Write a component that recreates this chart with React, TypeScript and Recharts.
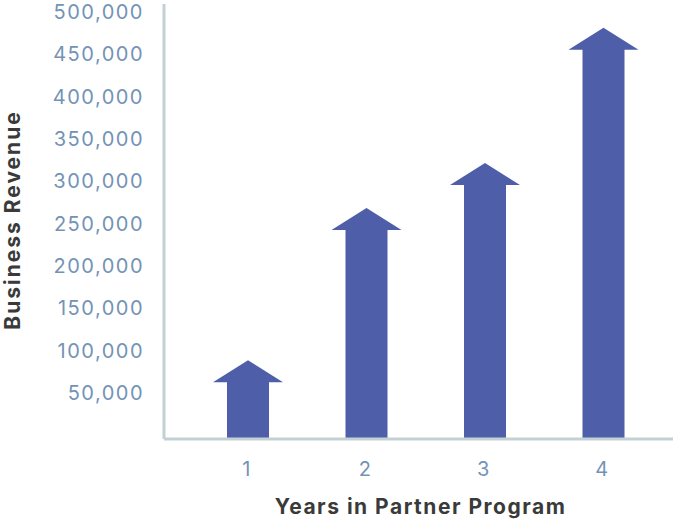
import React from 'react';
import { BarChart, Bar, XAxis, YAxis, Label } from 'recharts';

const years = ['1', '2', '3', '4'];
const revenue = [93000, 273000, 326000, 486000];
const yTicks = [50000, 100000, 150000, 200000, 250000, 300000, 350000, 400000, 450000, 500000];

const data = years.map((y, i) => ({ year: y, revenue: revenue[i] }));

const ARROW = '#4f5ea9';
const AXIS = '#c3d1d4';
const TICK = '#7393b5';
const TITLE = '#3a3a3a';
const FONT = 'Inter, "Noto Sans", sans-serif';

const ArrowShape = (props: any) => {
  const { x, y, width, height } = props;
  if (height == null || height <= 0) return null;
  const headH = 22;
  const headW = 70;
  const cx = x + width / 2;
  const d = [
    `M ${cx} ${y}`,
    `L ${cx + headW / 2} ${y + headH}`,
    `L ${x + width} ${y + headH}`,
    `L ${x + width} ${y + height}`,
    `L ${x} ${y + height}`,
    `L ${x} ${y + headH}`,
    `L ${cx - headW / 2} ${y + headH}`,
    'Z',
  ].join(' ');
  return <path d={d} fill={ARROW} />;
};

const YTick = (props: any) => {
  const { x, y, payload } = props;
  return (
    <text x={x} y={y - 4} dy="0.36em" textAnchor="end" fill={TICK} fontSize={20} letterSpacing={1.5} fontFamily={FONT}>
      {payload.value.toLocaleString('en-US')}
    </text>
  );
};

const XTick = (props: any) => {
  const { x, y, payload } = props;
  return (
    <text x={x - 2} y={y} dy="0.71em" textAnchor="middle" fill={TICK} fontSize={20} fontFamily={FONT}>
      {payload.value}
    </text>
  );
};

export default function App() {
  return (
    <div style={{ position: 'absolute', left: 0, top: 0, width: 700, height: 524, background: '#fff' }}>
      <BarChart
        width={700}
        height={524}
        data={data}
        margin={{ top: 4, right: 27, bottom: 0, left: 0 }}
      >
        <XAxis
          dataKey="year"
          height={85}
          padding={{ left: 25, right: 10 }}
          axisLine={{ stroke: AXIS, strokeWidth: 3 }}
          tickLine={false}
          tickSize={0}
          tickMargin={23}
          tick={<XTick />}
        >
          <Label
            content={(p: any) => {
              const vb = p.viewBox;
              return (
                <text
                  x={vb.x + vb.width / 2 + 2}
                  y={514}
                  textAnchor="middle"
                  fill={TITLE}
                  fontSize={21}
                  letterSpacing={1.5}
                  fontWeight={700}
                  fontFamily={FONT}
                >
                  Years in Partner Program
                </text>
              );
            }}
          />
        </XAxis>
        <YAxis
          width={164}
          domain={[0, 514000]}
          ticks={yTicks}
          interval={0}
          axisLine={{ stroke: AXIS, strokeWidth: 3 }}
          tickLine={false}
          tickSize={0}
          tickMargin={20}
          tick={<YTick />}
        >
          <Label
            content={() => (
              <text
                x={20}
                y={220}
                transform="rotate(-90 20 220)"
                textAnchor="middle"
                fill={TITLE}
                fontSize={21}
                letterSpacing={2}
                fontWeight={700}
                fontFamily={FONT}
              >
                Business Revenue
              </text>
            )}
          />
        </YAxis>
        <Bar dataKey="revenue" barSize={42} shape={<ArrowShape />} isAnimationActive={false} />
      </BarChart>
    </div>
  );
}
